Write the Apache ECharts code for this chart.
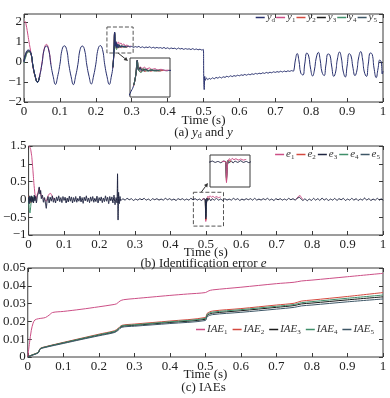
<!DOCTYPE html>
<html><head><meta charset="utf-8">
<script src="https://cdn.jsdelivr.net/npm/echarts@6/dist/echarts.min.js"></script>
<style>html,body{margin:0;padding:0;background:#fff}#c{width:390px;height:398px}</style>
</head><body><div id="c"></div><script>
// ---------------- DATA ----------------
// (a) tracking: reference yd and outputs y1..y5 (outputs only where they separate from yd)
const yd = [[0,0],[0.00625,0.5],[0.0125,0.6],[0.01875,0.48],[0.025,-0.2],[0.03125,-0.7],[0.0375,-1.02],[0.04375,-0.68],
[0.05,-0.1],[0.05625,0.62],[0.0625,0.8],[0.06875,0.6],[0.075,-0.14],[0.08125,-0.72],[0.0875,-1.12],[0.09375,-0.72],
[0.1,-0.12],[0.10625,0.63],[0.1125,0.81],[0.11875,0.62],[0.125,-0.14],[0.13125,-0.73],[0.1375,-1.13],[0.14375,-0.71],
[0.15,-0.13],[0.15625,0.62],[0.1625,0.8],[0.16875,0.6],[0.175,-0.15],[0.18125,-0.72],[0.1875,-1.1],[0.19375,-0.7],
[0.2,-0.11],[0.20625,0.64],[0.2125,0.82],[0.21875,0.62],[0.225,-0.14],[0.23125,-0.73],[0.2375,-1.12],[0.2435,-0.7],
[0.2475,-0.25],[0.2505,0.5],[0.2525,1.5],[0.2545,0.8],[0.2565,1.02],[0.2585,0.7],[0.2605,0.9],[0.263,0.72],[0.266,0.84],[0.269,0.74],[0.272,0.8],[0.275,0.76],
[0.28,0.79],[0.285,0.74],[0.29,0.8],[0.295,0.75],[0.3,0.78],[0.305,0.73],[0.31,0.77],[0.315,0.74],[0.32,0.78],[0.325,0.72],[0.33,0.76],[0.335,0.71],
[0.34,0.75],[0.345,0.72],[0.35,0.76],[0.355,0.7],[0.36,0.74],[0.365,0.69],[0.37,0.73],[0.375,0.7],[0.38,0.72],[0.385,0.68],[0.39,0.73],[0.395,0.67],
[0.4,0.71],[0.405,0.66],[0.41,0.7],[0.415,0.67],[0.42,0.69],[0.425,0.64],[0.43,0.7],[0.435,0.65],[0.44,0.68],[0.445,0.63],[0.45,0.67],[0.455,0.64],
[0.46,0.66],[0.465,0.62],[0.47,0.67],[0.475,0.62],[0.48,0.65],[0.485,0.61],[0.49,0.64],[0.495,0.6],[0.4995,0.63],
[0.5008,-0.85],[0.502,-1.38],[0.5035,-0.72],[0.505,-0.92],[0.508,-0.8],[0.512,-0.88],[0.516,-0.82],[0.52,-0.86],[0.525,-0.79],[0.53,-0.84],[0.535,-0.77],
[0.54,-0.81],[0.545,-0.75],[0.55,-0.8],[0.555,-0.74],[0.56,-0.77],[0.565,-0.71],[0.57,-0.75],[0.575,-0.69],[0.58,-0.73],[0.585,-0.68],[0.59,-0.71],
[0.595,-0.66],[0.6,-0.69],[0.605,-0.64],[0.61,-0.67],[0.615,-0.62],[0.62,-0.66],[0.625,-0.61],[0.63,-0.64],[0.635,-0.59],[0.64,-0.62],[0.645,-0.57],
[0.65,-0.6],[0.655,-0.56],[0.66,-0.59],[0.665,-0.54],[0.67,-0.57],[0.675,-0.52],[0.68,-0.56],[0.685,-0.51],[0.69,-0.54],[0.695,-0.49],[0.7,-0.52],
[0.705,-0.48],[0.71,-0.51],[0.715,-0.46],[0.72,-0.5],[0.725,-0.45],[0.73,-0.49],[0.735,-0.44],[0.74,-0.47],[0.745,-0.43],[0.75,-0.46],
[0.752,-0.4],[0.756,0.1],[0.761,0.42],[0.766,0.05],[0.771,-0.55],[0.777,-0.65],[0.782,-0.1],[0.788,0.45],[0.793,0.3],[0.798,-0.3],[0.804,-0.7],
[0.809,-0.4],[0.814,0.2],[0.82,0.48],[0.825,0.1],[0.83,-0.5],[0.836,-0.68],[0.841,-0.15],[0.847,0.4],[0.852,0.35],[0.857,-0.2],[0.863,-0.72],
[0.868,-0.5],[0.873,0.15],[0.879,0.5],[0.884,0.2],[0.889,-0.45],[0.895,-0.75],[0.9,-0.2],[0.906,0.42],[0.911,0.3],[0.916,-0.25],[0.922,-0.68],
[0.927,-0.45],[0.932,0.2],[0.938,0.52],[0.943,0.15],[0.948,-0.5],[0.954,-0.72],[0.959,-0.1],[0.965,0.45],[0.97,0.38],[0.975,-0.3],[0.981,-0.78],
[0.986,-0.35],[0.991,0.1],[0.995,0.0],[0.998,-0.6],[1.0,-0.45]];
const y1 = [[0,2.0],[0.003,2.02],[0.006,1.85],[0.01,1.45],[0.014,1.0],[0.018,0.6],[0.022,0.15],[0.025,-0.25],[0.03125,-0.74],[0.0375,-1.0],[0.04375,-0.66],
[0.05,-0.05],[0.05625,0.66],[0.0625,0.88],[0.06875,0.64],[0.075,-0.12],[0.076,'-'],
[0.2475,-0.3],[0.2505,0.45],[0.2525,1.45],[0.2545,0.85],[0.257,1.0],[0.26,0.92],[0.263,1.0],[0.266,0.88],[0.27,0.95],[0.274,0.85],[0.278,0.9],[0.282,0.82],[0.287,0.85],[0.292,0.78],[0.298,0.8]];
const y2 = [[0,0],[0.005,0.3],[0.0125,0.52],[0.019,0.42],[0.025,-0.22],[0.031,-0.72],[0.0375,-1.0],[0.044,-0.7],[0.045,'-'],
[0.2475,-0.28],[0.2505,0.5],[0.2525,1.4],[0.255,0.75],[0.258,0.68],[0.261,0.85],[0.264,0.7],[0.268,0.8],[0.272,0.72],[0.277,0.78],[0.282,0.74],[0.29,0.77]];
const y3 = [[0,0.05],[0.005,0.42],[0.0125,0.56],[0.019,0.44],[0.025,-0.2],[0.031,-0.7],[0.0375,-1.0],[0.044,-0.68],[0.045,'-'],
[0.2475,-0.25],[0.2505,0.52],[0.2525,1.48],[0.2545,0.82],[0.257,0.95],[0.26,0.78],[0.264,0.86],[0.268,0.76],[0.273,0.8],[0.278,0.75],[0.285,0.79]];
const y4 = [[0,-0.05],[0.004,0.2],[0.0125,0.5],[0.019,0.43],[0.025,-0.18],[0.031,-0.72],[0.0375,-1.02],[0.044,-0.7],[0.045,'-'],
[0.2475,-0.27],[0.2505,0.48],[0.2525,1.42],[0.255,0.8],[0.258,0.62],[0.262,0.9],[0.267,0.72],[0.272,0.82],[0.278,0.74],[0.286,0.78]];
const y5 = [[0,0.02],[0.005,0.36],[0.0125,0.53],[0.019,0.44],[0.025,-0.21],[0.031,-0.71],[0.0375,-1.01],[0.044,-0.69],[0.045,'-'],
[0.2475,-0.26],[0.2505,0.5],[0.2525,1.46],[0.2545,0.78],[0.257,0.9],[0.261,0.74],[0.265,0.84],[0.27,0.75],[0.276,0.79],[0.284,0.76]];

// (b) identification errors e1..e5
const e3 = [[0,0.05],[0.002,-0.12],[0.004,0.08],[0.006,-0.05],[0.008,0.1],[0.01,-0.08],[0.012,0.06],[0.014,-0.1],[0.016,0.12],[0.018,-0.04],[0.02,0.08],
[0.022,-0.1],[0.025,0.1],[0.028,0.2],[0.03,0.35],[0.032,0.15],[0.034,0.25],[0.036,0.02],[0.039,0.12],[0.042,-0.08],[0.045,0.05],[0.048,-0.15],[0.05,-0.25],
[0.052,-0.05],[0.055,0.08],[0.058,-0.1],[0.061,0.06],[0.064,-0.05],[0.067,0.1],[0.07,-0.08],[0.073,0.04],[0.076,-0.1],[0.079,0.07],[0.082,-0.04],[0.085,0.1],
[0.088,-0.06],[0.091,0.05],[0.094,-0.09],[0.097,0.08],[0.1,-0.03],[0.103,0.06],[0.106,-0.1],[0.109,0.04],[0.112,-0.07],[0.115,0.09],[0.118,-0.05],[0.121,0.07],
[0.124,-0.1],[0.127,0.05],[0.13,-0.06],[0.133,0.08],[0.136,-0.08],[0.139,0.03],[0.142,-0.05],[0.145,0.09],[0.148,-0.07],[0.151,0.05],[0.154,-0.11],[0.157,0.06],
[0.16,-0.04],[0.163,0.1],[0.166,-0.06],[0.169,0.04],[0.172,-0.09],[0.175,0.07],[0.178,-0.05],[0.181,0.08],[0.184,-0.08],[0.187,0.03],[0.19,-0.06],[0.193,0.09],
[0.196,-0.1],[0.199,0.05],[0.202,-0.04],[0.205,0.07],[0.208,-0.09],[0.211,0.04],[0.214,-0.06],[0.217,0.1],[0.22,-0.05],[0.223,0.06],[0.226,-0.12],[0.229,0.08],
[0.232,-0.04],[0.235,0.07],[0.238,-0.1],[0.241,0.12],[0.244,-0.15],[0.247,0.05],[0.2495,-0.1],[0.251,0.72],[0.2525,-0.58],[0.254,0.2],[0.256,-0.12],[0.258,0.08],
[0.26,-0.04],[0.266,0.02],[0.272,-0.02],[0.278,0.03],[0.284,-0.01],[0.29,0.02],[0.296,-0.03],[0.302,0.01],[0.308,-0.02],[0.314,0.02],[0.32,-0.01],[0.326,0.03],
[0.332,-0.02],[0.338,0.01],[0.344,-0.03],[0.35,0.02],[0.356,-0.01],[0.362,0.02],[0.368,-0.02],[0.374,0.01],[0.38,-0.02],[0.386,0.03],[0.392,-0.01],[0.398,0.02],
[0.404,-0.02],[0.41,0.01],[0.416,-0.03],[0.422,0.02],[0.428,-0.01],[0.434,0.02],[0.44,-0.02],[0.446,0.01],[0.452,-0.02],[0.458,0.03],[0.464,-0.01],[0.47,0.02],
[0.476,-0.02],[0.482,0.01],[0.488,-0.03],[0.494,0.02],[0.4985,0.0],[0.5,-0.55],[0.5015,-0.2],[0.503,0.04],[0.506,-0.03],[0.51,0.03],[0.514,-0.04],[0.518,0.02],
[0.524,-0.02],[0.53,0.03],[0.536,-0.02],[0.542,0.01],[0.548,-0.03],[0.554,0.02],[0.56,-0.02],[0.566,0.01],[0.572,-0.02],[0.578,0.03],[0.584,-0.01],[0.59,0.02],
[0.596,-0.03],[0.602,0.01],[0.608,-0.02],[0.614,0.02],[0.62,-0.01],[0.626,0.02],[0.632,-0.02],[0.638,0.03],[0.644,-0.02],[0.65,0.01],[0.656,-0.02],[0.662,0.02],
[0.668,-0.01],[0.674,0.03],[0.68,-0.02],[0.686,0.01],[0.692,-0.03],[0.698,0.02],[0.704,-0.01],[0.71,0.02],[0.716,-0.02],[0.722,0.01],[0.728,-0.02],[0.734,0.03],
[0.74,-0.01],[0.746,0.02],[0.752,-0.02],[0.758,0.03],[0.764,0.06],[0.768,0.02],[0.774,-0.03],[0.78,0.02],[0.786,-0.04],[0.792,0.01],[0.798,-0.03],[0.804,0.03],
[0.81,-0.02],[0.816,0.02],[0.822,-0.03],[0.828,0.04],[0.834,-0.02],[0.84,0.02],[0.846,-0.03],[0.852,0.01],[0.858,-0.02],[0.864,0.03],[0.87,-0.03],[0.876,0.02],
[0.882,-0.01],[0.888,0.03],[0.894,-0.03],[0.9,0.01],[0.906,-0.02],[0.912,0.03],[0.918,-0.02],[0.924,0.02],[0.93,-0.03],[0.936,0.01],[0.942,-0.02],[0.948,0.04],
[0.954,-0.02],[0.96,0.02],[0.966,-0.03],[0.972,0.01],[0.978,-0.02],[0.984,0.03],[0.99,-0.02],[0.995,0.02],[1,-0.03]];
const e1 = [[0,1.5],[0.003,1.48],[0.006,1.4],[0.009,1.2],[0.012,0.85],[0.015,0.45],[0.018,0.15],[0.021,0.0],[0.024,0.12],[0.027,0.22],[0.03,0.32],
[0.033,0.2],[0.036,0.1],[0.04,0.05],[0.045,0.0],[0.05,-0.05],[0.054,0.08],[0.058,0.15],[0.062,0.17],[0.066,0.1],[0.07,0.02],[0.074,-0.02],[0.075,'-'],
[0.49,0.01],[0.4985,0.0],[0.5,-0.62],[0.5015,-0.25],[0.503,0.0],[0.506,0.09],[0.509,0.05],[0.512,0.1],[0.516,0.06],[0.52,0.09],[0.525,0.05],[0.53,0.08],
[0.536,0.05],[0.542,0.07],[0.543,'-'],[0.754,0.0],[0.758,0.04],[0.762,0.09],[0.766,0.11],[0.77,0.04],[0.775,0.0]];
const e2 = [[0,0.1],[0.003,0.05],[0.006,-0.1],[0.01,0.05],[0.014,-0.03],[0.015,'-'],[0.4985,0],[0.5,-0.58],[0.502,-0.05],[0.506,0.04],[0.51,0.0]];
const e4 = [[0,0],[0.002,-0.3],[0.004,-0.38],[0.006,-0.2],[0.008,0.0],[0.011,0.08],[0.014,-0.05],[0.017,0.05],[0.018,'-'],
[0.4985,0],[0.5,-0.5],[0.5015,-0.15],[0.504,0.02],[0.508,-0.02]];
const e5 = [[0,-0.1],[0.003,0.1],[0.007,-0.08],[0.012,0.05],[0.013,'-'],[0.4985,0],[0.5,-0.48],[0.5015,-0.1],[0.505,0.0]];

// (c) IAEs
const iae1 = [[0,0],[0.005,0.008],[0.01,0.015],[0.015,0.019],[0.02,0.0208],[0.03,0.0215],[0.04,0.0218],[0.05,0.0222],[0.06,0.0235],[0.07,0.025],
[0.1,0.0256],[0.15,0.0268],[0.2,0.0282],[0.24,0.0294],[0.25,0.0299],[0.26,0.0315],[0.27,0.0322],[0.3,0.0328],[0.35,0.0337],[0.4,0.0346],[0.45,0.0354],
[0.5,0.0362],[0.51,0.0372],[0.52,0.0377],[0.6,0.0392],[0.7,0.0412],[0.75,0.042],[0.77,0.0427],[0.8,0.0432],[0.9,0.0451],[1,0.047]];
const iae2 = [[0,0],[0.01,0.001],[0.02,0.0018],[0.03,0.0028],[0.035,0.0048],[0.05,0.0058],[0.1,0.0082],[0.15,0.0105],[0.2,0.0128],[0.245,0.0148],[0.255,0.0162],
[0.265,0.0178],[0.3,0.0185],[0.4,0.0202],[0.5,0.0222],[0.505,0.0245],[0.52,0.0258],[0.6,0.0272],[0.7,0.0292],[0.75,0.0302],[0.77,0.0314],[0.8,0.032],[0.9,0.034],[1,0.0362]];
const iae3 = [[0,0],[0.01,0.0009],[0.02,0.0016],[0.03,0.0026],[0.035,0.0046],[0.05,0.0056],[0.1,0.0079],[0.15,0.0101],[0.2,0.0123],[0.245,0.0142],[0.255,0.0156],
[0.265,0.0172],[0.3,0.0178],[0.4,0.0194],[0.5,0.0212],[0.505,0.0234],[0.52,0.0246],[0.6,0.026],[0.7,0.0279],[0.75,0.0289],[0.77,0.0298],[0.8,0.0303],[0.9,0.0321],[1,0.0338]];
const iae4 = [[0,0],[0.01,0.001],[0.02,0.0017],[0.03,0.0027],[0.035,0.0047],[0.05,0.0057],[0.1,0.008],[0.15,0.0103],[0.2,0.0125],[0.245,0.0145],[0.255,0.0159],
[0.265,0.0175],[0.3,0.0181],[0.4,0.0198],[0.5,0.0217],[0.505,0.024],[0.52,0.0252],[0.6,0.0266],[0.7,0.0285],[0.75,0.0295],[0.77,0.0305],[0.8,0.0311],[0.9,0.033],[1,0.0348]];
const iae5 = [[0,0],[0.01,0.0008],[0.02,0.0015],[0.03,0.0024],[0.035,0.0044],[0.05,0.0054],[0.1,0.0076],[0.15,0.0098],[0.2,0.0119],[0.245,0.0138],[0.255,0.0151],
[0.265,0.0167],[0.3,0.0173],[0.4,0.0188],[0.5,0.0205],[0.505,0.0226],[0.52,0.0238],[0.6,0.0251],[0.7,0.0269],[0.75,0.0279],[0.77,0.0287],[0.8,0.0292],[0.9,0.031],[1,0.0326]];

const xTickLabels = ['0','0.1','0.2','0.3','0.4','0.5','0.6','0.7','0.8','0.9','1'];

// ---------------- STYLE ----------------
const F = 'Liberation Serif';
const INK = '#222';
const FRAME = '#3a3a3a';
const C = {d:'#28306e', 1:'#cc4f86', 2:'#d4493f', 3:'#1a1a1a', 4:'#3f8f6a', 5:'#3d5666', e:'#1f2440'};

const chart = echarts.init(document.getElementById('c'), null, {renderer:'canvas'});

const grids = [
  {left:24, top:14, width:359, height:88},
  {left:25, top:146, width:358, height:89},
  {left:26, top:268, width:357, height:89},
  {left:130, top:58, width:40, height:39},
  {left:210, top:155, width:40, height:32}
].map(g => Object.assign({show:true, borderColor:FRAME, borderWidth:1, backgroundColor:'#fff'}, g));

const minus = s => String(s).replace('-', '\u2212');
const xAxes = [], yAxes = [];
const tick = {inside:true, length:4, lineStyle:{color:FRAME}};
function mainAxes(g, ymin, ymax, yint, nameGap, yfmt) {
  xAxes.push({gridIndex:g, type:'value', position:'bottom', min:0, max:1, interval:0.1,
    axisLine:{show:false, onZero:false}, axisTick:tick,
    axisLabel:{fontFamily:F, fontSize:13, color:INK, margin:3, formatter:(v)=>xTickLabels[Math.round(v*10)]},
    splitLine:{show:false}, name:'Time (s)', nameLocation:'middle', nameGap:nameGap, nameMoveOverlap:false,
    nameTextStyle:{fontFamily:F, fontSize:13, color:INK, verticalAlign:'middle'}});
  xAxes.push({gridIndex:g, type:'value', position:'top', min:0, max:1, interval:0.1,
    axisLine:{show:false, onZero:false}, axisTick:tick,
    axisLabel:{show:false}, splitLine:{show:false}});
  yAxes.push({gridIndex:g, type:'value', position:'left', min:ymin, max:ymax, interval:yint,
    axisLine:{show:false, onZero:false}, axisTick:tick,
    axisLabel:{fontFamily:F, fontSize:13, color:INK, margin:2, formatter:yfmt},
    splitLine:{show:false}});
  yAxes.push({gridIndex:g, type:'value', position:'right', min:ymin, max:ymax, interval:yint,
    axisLine:{show:false, onZero:false}, axisTick:tick,
    axisLabel:{show:false}, splitLine:{show:false}});
}
mainAxes(0, -2, 2.4, 1, 19, v => (Math.abs(v - Math.round(v)) > 1e-6) ? '' : minus(Math.round(v)));
mainAxes(1, -1, 1.5, 0.5, 18, v => minus(+v.toFixed(1)));
mainAxes(2, 0, 0.05, 0.01, 18, v => String(+v.toFixed(2)));
// insets
xAxes.push({gridIndex:3, type:'value', min:0.242, max:0.3, show:false});
yAxes.push({gridIndex:3, type:'value', min:-1.1, max:1.65, show:false});
xAxes.push({gridIndex:4, type:'value', min:0.465, max:0.55, show:false});
yAxes.push({gridIndex:4, type:'value', min:-0.75, max:0.2, show:false});

function line(name, data, color, xi, yi, z, extra) {
  return Object.assign({type:'line', name, data, xAxisIndex:xi, yAxisIndex:yi, symbol:'none', showSymbol:false,
    connectNulls:false, clip:true, z:z, color:color, lineStyle:{width:1, color:color}, smooth:0.5}, extra||{});
}
const box = (a, b) => ({silent:true, itemStyle:{color:'rgba(0,0,0,0)', borderColor:'#555', borderWidth:1, borderType:'dashed'}, data:[[a, b]]});

const series = [
  line('y_1', y1, C[1], 0, 0, 2), line('y_2', y2, C[2], 0, 0, 2), line('y_3', y3, C[3], 0, 0, 2),
  line('y_4', y4, C[4], 0, 0, 2), line('y_5', y5, C[5], 0, 0, 2),
  line('y_d', yd, C.d, 0, 0, 3, {markArea:box({xAxis:0.231, yAxis:1.75}, {xAxis:0.304, yAxis:0.45})}),
  // inset a
  line('y_d', yd, C.d, 6, 6, 4), line('y_1', y1, C[1], 6, 6, 4), line('y_2', y2, C[2], 6, 6, 4),
  line('y_3', y3, C[3], 6, 6, 4), line('y_4', y4, C[4], 6, 6, 4), line('y_5', y5, C[5], 6, 6, 4),
  // (b)
  line('e_1', e1, C[1], 2, 2, 2, {smooth:0.15}), line('e_2', e2, C[2], 2, 2, 2, {smooth:0.15}), line('e_4', e4, C[4], 2, 2, 2, {smooth:0.15}),
  line('e_5', e5, C[5], 2, 2, 2, {smooth:0.15}),
  line('e_3', e3, C.e, 2, 2, 3, {smooth:0.15, markArea:box({xAxis:0.465, yAxis:0.2}, {xAxis:0.55, yAxis:-0.75})}),
  // inset b
  line('e_3', e3, C.e, 7, 7, 4, {smooth:0.15}), line('e_2', e2, C[2], 7, 7, 4, {smooth:0.15}), line('e_4', e4, C[4], 7, 7, 4, {smooth:0.15}),
  line('e_5', e5, C[5], 7, 7, 4, {smooth:0.15}), line('e_1', e1, C[1], 7, 7, 4, {smooth:0.15}),
  // (c)
  line('IAE_1', iae1, C[1], 4, 4, 2, {smooth:0.3}), line('IAE_2', iae2, C[2], 4, 4, 2, {smooth:0.3}), line('IAE_3', iae3, C[3], 4, 4, 2, {smooth:0.3}),
  line('IAE_4', iae4, C[4], 4, 4, 2, {smooth:0.3}), line('IAE_5', iae5, C[5], 4, 4, 2, {smooth:0.3})
];

const rich = {
  i:{fontFamily:F, fontStyle:'italic', fontSize:11, color:'#333'},
  s:{fontFamily:F, fontSize:7, color:'#333', padding:[5,0,0,0]}
};
const fmtName = n => { const p = n.split('_'); return '{i|' + p[0] + '}{s|' + p[1] + '}'; };
function legend(names, top, right, gap) {
  return {data:names, top:top, right:right, orient:'horizontal', itemGap:gap, itemWidth:9, itemHeight:1.5, icon:'rect',
    padding:0, selectedMode:false, formatter:fmtName, textStyle:{rich:rich, padding:[0,0,0,-3]}};
}

chart.setOption({
  animation:false,
  backgroundColor:'#fff',
  grid:grids, xAxis:xAxes, yAxis:yAxes, series:series,
  legend:[
    legend(['y_d','y_1','y_2','y_3','y_4','y_5'], 12, 13, 1),
    legend(['e_1','e_2','e_3','e_4','e_5'], 149, 10, 2),
    legend(['IAE_1','IAE_2','IAE_3','IAE_4','IAE_5'], 324, 16, 5)
  ]
});

// annotation: arrows and captions (positions from the axes)
const px = (xi, yi, pt) => chart.convertToPixel({xAxisIndex:xi, yAxisIndex:yi}, pt);
function arrow(s, e) {
  const dx = e[0]-s[0], dy = e[1]-s[1], L = Math.hypot(dx, dy), ux = dx/L, uy = dy/L, h = 4, w = 2;
  const b = [e[0]-ux*h, e[1]-uy*h];
  return [
    {type:'line', shape:{x1:s[0], y1:s[1], x2:b[0], y2:b[1]}, style:{stroke:'#333', lineWidth:1}, z:10},
    {type:'polygon', shape:{points:[e, [b[0]-uy*w, b[1]+ux*w], [b[0]+uy*w, b[1]-ux*w]]}, style:{fill:'#333'}, z:10}
  ];
}
const aS = px(0, 0, [0.262, 0.45]); const aE0 = px(6, 6, [0.242, 1.65]);
const bS = px(2, 2, [0.487, 0.2]); const bE0 = px(7, 7, [0.465, -0.75]);
const capRich = {
  t:{fontFamily:F, fontSize:13, fill:INK, color:INK},
  i:{fontFamily:F, fontSize:13, fontStyle:'italic', fill:INK, color:INK},
  s:{fontFamily:F, fontSize:8, fill:INK, color:INK, padding:[6,0,0,0]}
};
const cx = (grids[0].left + grids[0].left + grids[0].width) / 2;
function caption(text, y) {
  return {type:'text', x:cx, y:y, z:10, style:{text:text, rich:capRich, align:'center', verticalAlign:'middle', font:'13px ' + F, fill:INK}};
}
chart.setOption({graphic:[
  ...arrow(aS, [aE0[0]-2, aE0[1]+3]),
  ...arrow(bS, [bE0[0]-2, bE0[1]-4]),
  caption('{t|(a) }{i|y}{s|d}{t| and }{i|y}', 133),
  caption('{t|(b) Identification error }{i|e}', 264),
  caption('{t|(c) IAEs}', 388)
]});
</script></body></html>
